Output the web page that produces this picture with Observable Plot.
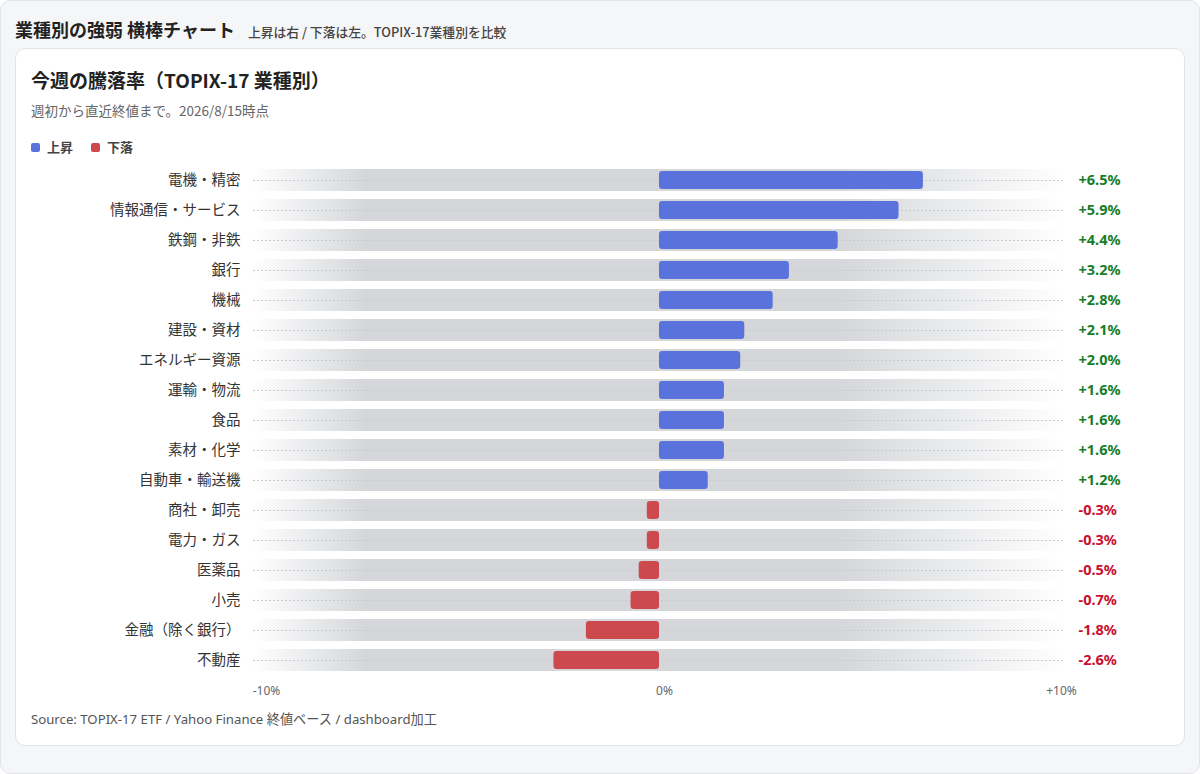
<!DOCTYPE html>
<html><head><meta charset="utf-8">
<script src="https://cdn.jsdelivr.net/npm/d3@7"></script>
<script src="https://cdn.jsdelivr.net/npm/@observablehq/plot@0.6"></script>
<style>
html,body{margin:0;padding:0;background:#fff;}
body{font-family:"Noto Sans","Noto Sans CJK JP",sans-serif;}
.page{position:relative;width:1198px;height:772px;background:#f5f6f8;border:1px solid #e2e4e7;border-radius:10px;overflow:hidden;}
.head{position:absolute;left:14px;top:15px;display:flex;align-items:baseline;gap:13px;white-space:nowrap;}
.head h1{margin:0;font-size:18px;font-weight:700;color:#222;font-family:"Noto Sans CJK JP",sans-serif;}
.head span{font-size:12.8px;color:#444;font-weight:500;font-family:"Noto Sans CJK JP",sans-serif;}
.card{position:absolute;left:14px;top:47px;width:1168px;height:696px;background:#fff;border:1px solid #e1e3e6;border-radius:10px;}
.title{position:absolute;left:15px;top:18px;font-size:19px;line-height:26px;font-weight:700;color:#222;font-family:"Noto Sans CJK JP",sans-serif;white-space:nowrap;}
.sub{position:absolute;left:15px;top:52px;font-size:13.5px;line-height:18px;color:#666;font-family:"Noto Sans CJK JP",sans-serif;}
.legend{position:absolute;left:15px;top:89px;display:flex;align-items:center;font-size:13px;line-height:18px;font-weight:700;color:#444;font-family:"Noto Sans CJK JP",sans-serif;}
.legend i{display:inline-block;width:9px;height:9px;border-radius:2px;margin-right:7px;}
.legend b{margin-right:18px;font-weight:700;}
#chart{position:absolute;left:15px;top:110px;}
.src{position:absolute;left:15px;top:661px;font-size:13.2px;line-height:18px;color:#555;font-family:"Noto Sans","Noto Sans CJK JP",sans-serif;}
g[aria-label="y-axis tick label"] text{fill:#333;}
g[aria-label="x-axis tick label"] text{fill:#666;}
</style></head>
<body>
<div class="page">
  <div class="head"><h1>業種別の強弱 横棒チャート</h1><span>上昇は右 / 下落は左。TOPIX-17業種別を比較</span></div>
  <div class="card">
    <div class="title">今週の騰落率（TOPIX-17 業種別）</div>
    <div class="sub">週初から直近終値まで。2026/8/15時点</div>
    <div class="legend"><i style="background:#5a72db"></i><b>上昇</b><i style="background:#cc4a4e"></i><b>下落</b></div>
    <div id="chart"></div>
    <div class="src">Source: TOPIX-17 ETF / Yahoo Finance 終値ベース / dashboard加工</div>
  </div>
</div>
<script>
const sectors = ["電機・精密","情報通信・サービス","鉄鋼・非鉄","銀行","機械","建設・資材","エネルギー資源","運輸・物流","食品","素材・化学","自動車・輸送機","商社・卸売","電力・ガス","医薬品","小売","金融（除く銀行）","不動産"];
const changes = [6.5,5.9,4.4,3.2,2.8,2.1,2.0,1.6,1.6,1.6,1.2,-0.3,-0.3,-0.5,-0.7,-1.8,-2.6];
const xTicks = [-10,0,10];
const xDomain = [-10,10];

const data = sectors.map((name,i)=>({name, value:changes[i]}));
const up = data.filter(d=>d.value>=0);
const down = data.filter(d=>d.value<0);
const fmt = v => (v>0?"+":"") + v.toFixed(1) + "%";
const tickFmt = d=>(d>0?"+":"")+d+"%";
const axisOpts = {tickSize:0, tickPadding:10, fontSize:12, label:null, tickFormat:tickFmt};

const chart = Plot.plot({
  width:1138, height:545,
  marginLeft:222, marginRight:104, marginTop:5, marginBottom:28,
  style:{fontFamily:'"Noto Sans","Noto Sans CJK JP",sans-serif', background:"transparent"},
  x:{domain:xDomain},
  y:{domain:sectors, padding:0},
  marks:[
    Plot.barX(sectors,{y:d=>d, x1:xDomain[0], x2:xDomain[1], fill:"url(#trackGrad)", insetTop:4, insetBottom:4}),
    Plot.ruleY(sectors,{y:d=>d, x1:xDomain[0], x2:xDomain[1], stroke:"#c8cacd", strokeDasharray:"2,2", strokeWidth:1}),
    Plot.barX(up,{y:"name", x1:0, x2:"value", fill:"#5a72db", insetTop:6, insetBottom:6, rx:3}),
    Plot.barX(down,{y:"name", x1:0, x2:"value", fill:"#cc4a4e", insetTop:6, insetBottom:6, rx:3}),
    Plot.text(up,{y:"name", x:xDomain[1], text:d=>fmt(d.value), dx:13, textAnchor:"start", fill:"#167d2b", fontWeight:"bold", fontSize:14.5}),
    Plot.text(down,{y:"name", x:xDomain[1], text:d=>fmt(d.value), dx:13, textAnchor:"start", fill:"#c8102e", fontWeight:"bold", fontSize:14.5}),
    Plot.axisY({tickSize:0, tickPadding:13, fontSize:14.5, label:null}),
    Plot.axisX({...axisOpts, ticks:[xTicks[0]], dx:13}),
    Plot.axisX({...axisOpts, ticks:[xTicks[1]], dx:5}),
    Plot.axisX({...axisOpts, ticks:[xTicks[2]], dx:-4})
  ]
});
d3.select(chart).insert("defs",":first-child").html(
  '<linearGradient id="trackGrad" x1="0" x2="1" y1="0" y2="0">'+
  '<stop offset="0" stop-color="#d4d6d9" stop-opacity="0"/>'+
  '<stop offset="0.14" stop-color="#d4d6d9" stop-opacity="1"/>'+
  '<stop offset="0.72" stop-color="#d4d6d9" stop-opacity="1"/>'+
  '<stop offset="1" stop-color="#d4d6d9" stop-opacity="0"/>'+
  '</linearGradient>');
document.getElementById("chart").appendChild(chart);
</script>
</body></html>
